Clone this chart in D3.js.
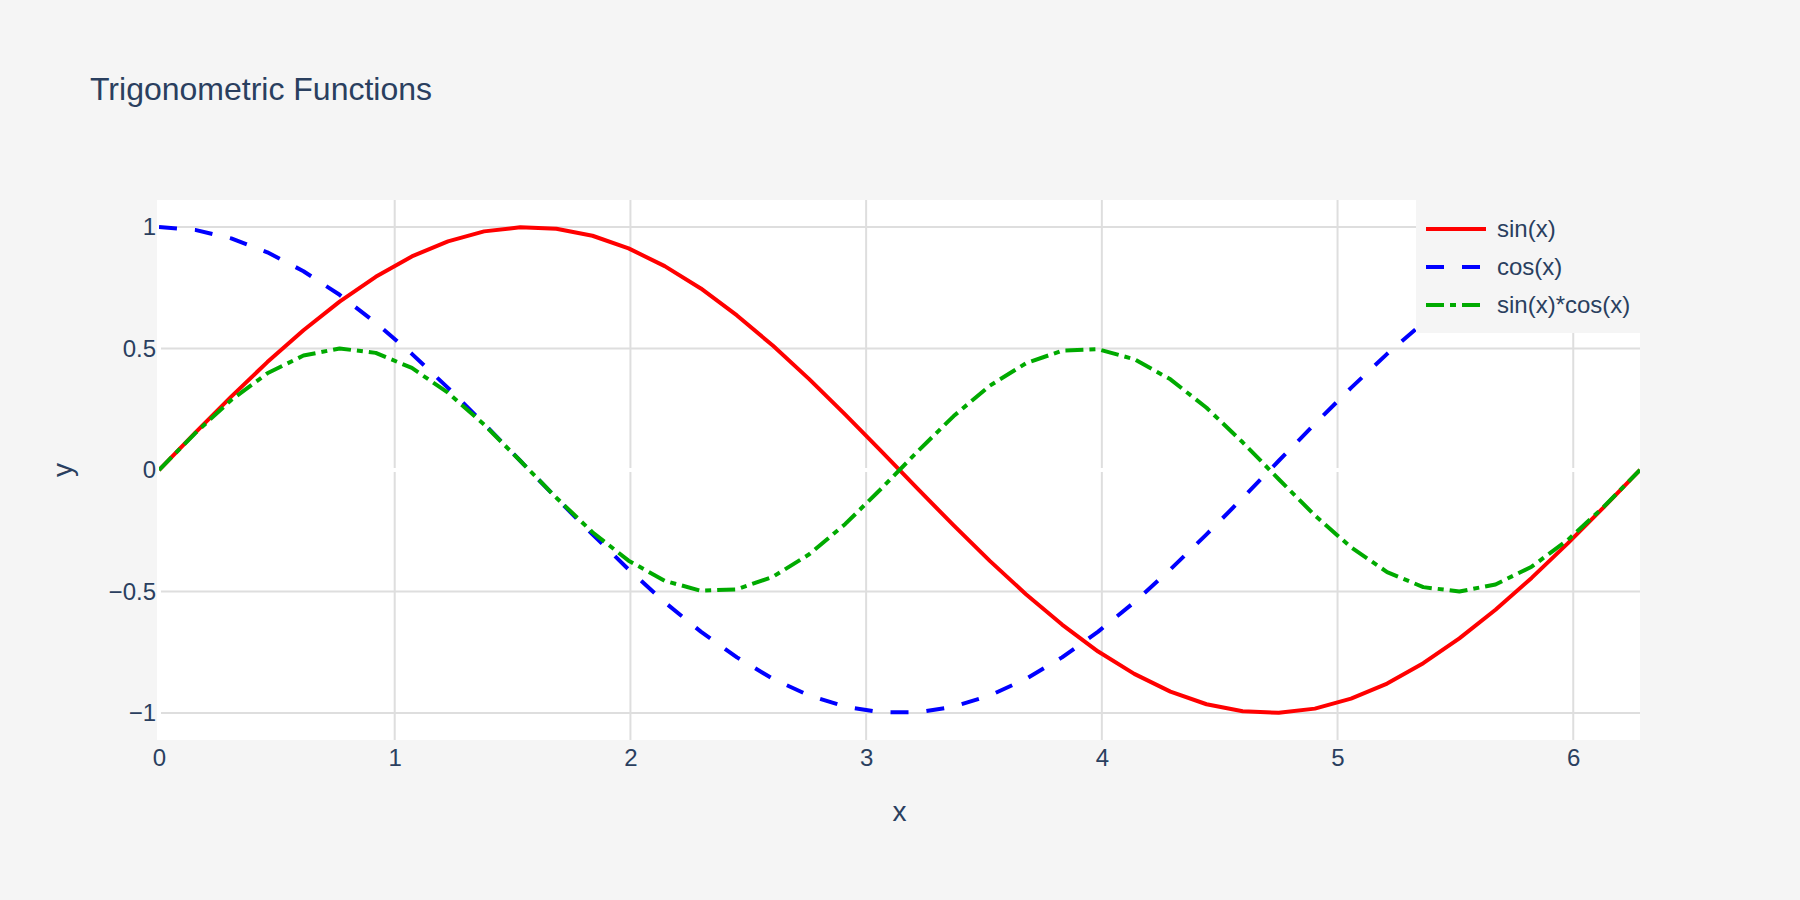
<!DOCTYPE html>
<html>
<head>
<meta charset="utf-8">
<script src="https://cdn.jsdelivr.net/npm/d3@7"></script>
<style>
    html, body { margin: 0; padding: 0; background: #f5f5f5; }
    svg { display: block; font-family: "Liberation Sans", Arial, Helvetica, sans-serif; }
</style>
</head>
<body>
<svg id="chart" width="1800" height="900"></svg>
<script>
// DATA
const xValues = [0, 0.1532, 0.3065, 0.4597, 0.6130, 0.7662, 0.9195, 1.0727, 1.2260, 1.3792,
    1.5325, 1.6857, 1.8390, 1.9922, 2.1455, 2.2987, 2.4520, 2.6052, 2.7585, 2.9117,
    3.0650, 3.2182, 3.3715, 3.5247, 3.6780, 3.8312, 3.9845, 4.1377, 4.2910, 4.4442,
    4.5975, 4.7507, 4.9039, 5.0572, 5.2104, 5.3637, 5.5169, 5.6702, 5.8234, 5.9767,
    6.1299, 6.2832];
const sinValues = [0, 0.153, 0.302, 0.444, 0.575, 0.693, 0.795, 0.879, 0.941, 0.982,
    0.999, 0.993, 0.964, 0.912, 0.839, 0.747, 0.636, 0.511, 0.374, 0.228,
    0.077, -0.077, -0.228, -0.374, -0.511, -0.636, -0.747, -0.839, -0.912, -0.964,
    -0.993, -0.999, -0.982, -0.941, -0.879, -0.795, -0.693, -0.575, -0.444, -0.302,
    -0.153, 0];
const cosValues = [1, 0.988, 0.953, 0.896, 0.818, 0.721, 0.606, 0.478, 0.338, 0.190,
    0.038, -0.115, -0.265, -0.409, -0.544, -0.665, -0.771, -0.860, -0.928, -0.974,
    -0.997, -0.997, -0.974, -0.928, -0.860, -0.771, -0.665, -0.544, -0.409, -0.265,
    -0.115, 0.038, 0.190, 0.338, 0.478, 0.606, 0.721, 0.818, 0.896, 0.953,
    0.988, 1];
const sinCosValues = [0, 0.151, 0.288, 0.398, 0.471, 0.500, 0.482, 0.420, 0.318, 0.187,
    0.038, -0.114, -0.256, -0.373, -0.456, -0.497, -0.491, -0.439, -0.347, -0.222,
    -0.076, 0.076, 0.222, 0.347, 0.439, 0.491, 0.497, 0.456, 0.373, 0.256,
    0.114, -0.038, -0.187, -0.318, -0.420, -0.482, -0.500, -0.471, -0.398, -0.288,
    -0.151, 0];

const seriesNames = ["sin(x)", "cos(x)", "sin(x)*cos(x)"];
const xTicks = [0, 1, 2, 3, 4, 5, 6];
const yTicks = [-1, -0.5, 0, 0.5, 1];
const yRange = [-1.1111, 1.1111];

// STYLES
const textColor = "#2a3f5f";
const gridColor = "#dedede";
const lineStyles = [
    {color: "#ff0000", dash: null},
    {color: "#0000ff", dash: "18,18"},
    {color: "#00aa00", dash: "18,6,6,6"}
];

// LAYOUT
const width = 1800, height = 900;
const margin = {left: 159, right: 160, top: 200, bottom: 160};
const plotW = width - margin.left - margin.right;
const plotH = height - margin.top - margin.bottom;

const svg = d3.select("#chart");

svg.append("rect")
    .attr("width", width)
    .attr("height", height)
    .attr("fill", "#f5f5f5");

// Scales
const x = d3.scaleLinear()
    .domain(d3.extent(xValues))
    .range([margin.left, margin.left + plotW]);
const y = d3.scaleLinear()
    .domain(yRange)
    .range([margin.top + plotH, margin.top]);

// Plot background
svg.append("rect")
    .attr("x", margin.left)
    .attr("y", margin.top)
    .attr("width", plotW)
    .attr("height", plotH)
    .attr("fill", "#ffffff");

// Grid lines (zero handled by zeroline)
const grid = svg.append("g");
grid.selectAll(".vgrid")
    .data(xTicks.filter(d => d !== 0))
    .enter().append("line")
    .attr("x1", d => x(d)).attr("x2", d => x(d))
    .attr("y1", margin.top).attr("y2", margin.top + plotH)
    .attr("stroke", gridColor)
    .attr("stroke-width", 2);
grid.selectAll(".hgrid")
    .data(yTicks.filter(d => d !== 0))
    .enter().append("line")
    .attr("x1", margin.left).attr("x2", margin.left + plotW)
    .attr("y1", d => y(d)).attr("y2", d => y(d))
    .attr("stroke", gridColor)
    .attr("stroke-width", 2);

// White zero lines
svg.append("line")
    .attr("x1", margin.left).attr("x2", margin.left + plotW)
    .attr("y1", y(0)).attr("y2", y(0))
    .attr("stroke", "#ffffff")
    .attr("stroke-width", 4);
svg.append("line")
    .attr("x1", x(0)).attr("x2", x(0))
    .attr("y1", margin.top).attr("y2", margin.top + plotH)
    .attr("stroke", "#ffffff")
    .attr("stroke-width", 4);

// Clip for traces
svg.append("clipPath")
    .attr("id", "plot-clip")
    .append("rect")
    .attr("x", margin.left)
    .attr("y", margin.top)
    .attr("width", plotW)
    .attr("height", plotH);

// Lines
const seriesValues = [sinValues, cosValues, sinCosValues];
const line = d3.line()
    .x(d => x(d[0]))
    .y(d => y(d[1]));

const traces = svg.append("g").attr("clip-path", "url(#plot-clip)");
seriesValues.forEach((vals, i) => {
    traces.append("path")
        .datum(xValues.map((xv, j) => [xv, vals[j]]))
        .attr("d", line)
        .attr("fill", "none")
        .attr("stroke", lineStyles[i].color)
        .attr("stroke-width", 4)
        .attr("stroke-linejoin", "round")
        .attr("stroke-dasharray", lineStyles[i].dash);
});

// Axes
const xAxis = svg.append("g")
    .attr("transform", `translate(0,${margin.top + plotH})`)
    .call(d3.axisBottom(x).tickValues(xTicks).tickSize(0).tickPadding(9).tickFormat(d3.format("~g")));
const yAxis = svg.append("g")
    .attr("transform", `translate(${margin.left},0)`)
    .call(d3.axisLeft(y).tickValues(yTicks).tickSize(0).tickPadding(3).tickFormat(d3.format("~g")));

[xAxis, yAxis].forEach(ax => {
    ax.select(".domain").remove();
    ax.selectAll("text")
        .attr("fill", textColor)
        .style("font-size", "24px")
        .style("font-family", "\"Liberation Sans\", Arial, Helvetica, sans-serif");
});

// Axis titles
svg.append("text")
    .attr("x", margin.left + plotW / 2)
    .attr("y", 821)
    .attr("text-anchor", "middle")
    .attr("fill", textColor)
    .style("font-size", "28px")
    .text("x");
svg.append("text")
    .attr("transform", `translate(72,${y(0)}) rotate(-90)`)
    .attr("text-anchor", "middle")
    .attr("fill", textColor)
    .style("font-size", "28px")
    .text("y");

// Title
svg.append("text")
    .attr("x", 90)
    .attr("y", 100)
    .attr("fill", textColor)
    .style("font-size", "32px")
    .text("Trigonometric Functions");

// Legend
const legendX = 1416, legendY = margin.top;
const legend = svg.append("g").attr("transform", `translate(${legendX},${legendY})`);
legend.append("rect")
    .attr("width", margin.left + plotW - legendX)
    .attr("height", 133)
    .attr("fill", "#f5f5f5");

const items = legend.selectAll(".legend-item")
    .data(seriesNames)
    .enter().append("g")
    .attr("transform", (d, i) => `translate(0,${29 + i * 38})`);
items.append("line")
    .attr("x1", 10).attr("x2", 70)
    .attr("y1", 0).attr("y2", 0)
    .attr("stroke", (d, i) => lineStyles[i].color)
    .attr("stroke-width", 4)
    .attr("stroke-dasharray", (d, i) => lineStyles[i].dash);
items.append("text")
    .attr("x", 81)
    .attr("y", 0)
    .attr("dy", "0.35em")
    .attr("fill", textColor)
    .style("font-size", "24px")
    .text(d => d);
</script>
</body>
</html>
